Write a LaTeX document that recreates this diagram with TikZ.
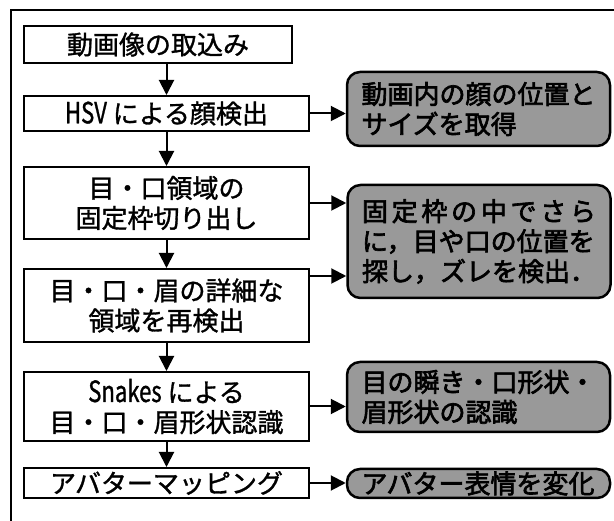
\documentclass[tikz,border=0pt]{standalone}
\usepackage{fontspec}
\usepackage{graphicx}
\usetikzlibrary{arrows.meta}
\newfontfamily\jp[FakeBold=1.2]{Noto Sans CJK JP}
\newfontfamily\jpb[FakeBold=2.5]{Noto Sans CJK JP}
\newcommand\latn[1]{\scalebox{0.85}[1.12]{#1}}
\newcommand\spreadline[1]{\hbox to 234pt{#1}}
\begin{document}
\begin{tikzpicture}[x=1pt,y=-1pt,
  mainbox/.style={draw=black,line width=2pt,fill=white,inner sep=0pt,
    minimum width=285pt,align=center,font=\jp\fontsize{26}{30}\selectfont},
  graybox/.style={draw=black,line width=2.5pt,fill=black!40,rounded corners=13pt,
    inner sep=0pt,minimum width=263pt,text width=234pt,align=left,
    font=\jpb\fontsize{26}{30}\selectfont},
  arr/.style={line width=2pt,-{Triangle[length=15pt,width=15pt]}},
  framel/.style={line width=1.6pt}]
\useasboundingbox (0,0) rectangle (614,521);
\coordinate (fbl) at (11,521);
\coordinate (ftl) at (11,10);
\coordinate (ftr) at (614,10);
\draw[framel] (fbl) -- (ftl) -- (ftr);

\node[mainbox,minimum width=268pt,minimum height=37pt] (b1) at (158,44.5) {動画像の取込み};
\node[mainbox,minimum height=35pt] (b2) at (166.5,113.5) {\latn{HSV} による顔検出};
\node[mainbox,minimum height=72pt] (b3) at (166.5,203) {目・口領域の\\固定枠切り出し};
\node[mainbox,minimum height=73pt] (b4) at (166.5,305.5) {目・口・眉の詳細な\\領域を再検出};
\node[mainbox,minimum height=69pt] (b5) at (166.5,406.5) {\latn{Snakes} による\\目・口・眉形状認識};
\node[mainbox,minimum height=30pt] (b6) at (166.5,483) {アバターマッピング};

\node[graybox,minimum height=74pt] (gA) at (478.5,109) {動画内の顔の位置と\\サイズを取得};
\node[graybox,minimum height=113pt] (gB) at (479,241.5) {\spreadline{固\hfil 定\hfil 枠\hfil の\hfil 中\hfil で\hfil さ\hfil ら}\\に，目や口の位置を\\探し，ズレを検出．};
\node[graybox,minimum height=70pt] (gC) at (478.5,397) {目の瞬き・口形状・\\眉形状の認識};
\node[graybox,minimum height=29pt] (gD) at (478.5,483.5) {アバター表情を変化};

\draw[arr] (b1.south -| b2.north) -- (b2.north);
\draw[arr] (b2.south) -- (b3.north);
\draw[arr] (b3.south) -- (b4.north);
\draw[arr] (b4.south) -- (b5.north);
\draw[arr] (b5.south) -- (b6.north);

\coordinate (b4a) at ([yshift=-8pt]b4.north east);
\draw[arr] (b2.east) -- (b2.east -| gA.west);
\draw[arr] (b3.east) -- (b3.east -| gB.west);
\draw[arr] (b4a) -- (b4a -| gB.west);
\draw[arr] (b5.east) -- (b5.east -| gC.west);
\draw[arr] (b6.east) -- (b6.east -| gD.west);
\end{tikzpicture}
\end{document}
